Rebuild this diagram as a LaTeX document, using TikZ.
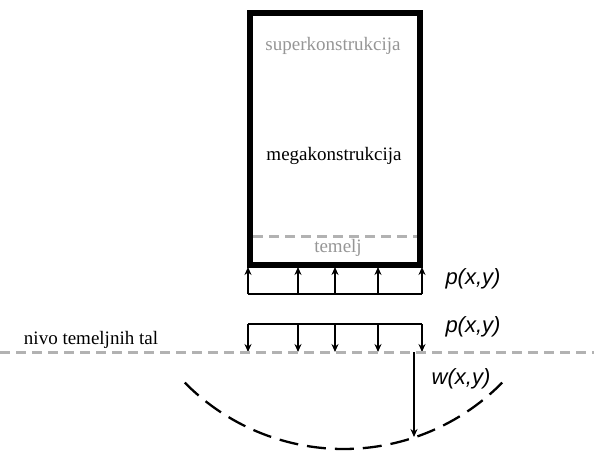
\documentclass[tikz,border=0pt]{standalone}
\usepackage{fontspec}
\setmainfont{Liberation Serif}
\newfontfamily\labfont{Liberation Sans}
\usetikzlibrary{arrows.meta}
\definecolor{lgray}{RGB}{178,178,178}
\definecolor{tgray}{RGB}{150,150,150}
\begin{document}
\begin{tikzpicture}[x=1pt,y=-1pt,
  wall/.style={line width=5.5pt},
  grayline/.style={draw=lgray,line width=3pt,dash pattern=on 10pt off 6pt},
  force/.style={line width=1.3pt,-{Stealth[length=8pt,width=7pt]}},
  frame/.style={line width=1.3pt},
  serif/.style={font=\fontsize{19}{22}\selectfont},
  fn/.style={font=\labfont\itshape\fontsize{22}{26}\selectfont}]
\useasboundingbox (0,0) rectangle (594,450);
% building
\draw[wall] (250,13) rectangle (420,265);
\draw[grayline] (253,236) -- (417,236);
\node[serif,text=tgray] (sup) at (333,46) {superkonstrukcija};
\node[serif] (mega) at (334,156) {megakonstrukcija};
\node[serif,text=tgray] (tem) at (338,248) {temelj};
% upward pressure
\foreach \i/\x in {1/248,2/298,3/335,4/378,5/422}{
  \coordinate (ub\i) at (\x,294);
  \coordinate (ut\i) at (\x,267);
  \coordinate (db\i) at (\x,324);
  \coordinate (dt\i) at (\x,352);
}
\draw[frame] (ub1) -- (ub5);
\foreach \i in {1,...,5}{\draw[force] (ub\i) -- (ut\i);}
\node[fn] (p1) at (473,279) {p(x,y)};
% downward pressure
\draw[frame] (db1) -- (db5);
\foreach \i in {1,...,5}{\draw[force] (db\i) -- (dt\i);}
\node[fn] (p2) at (473,327) {p(x,y)};
% ground level
\coordinate (gl) at (0,352);
\coordinate (gr) at (594,352);
\draw[grayline] (gl) -- (gr);
\node[serif] (nivo) at (91,340) {nivo temeljnih tal};
% settlement
\coordinate (c) at (343.5,226);
\draw[line width=2.3pt,dash pattern=on 19pt off 9pt] (c) ++(135.4:223) arc[start angle=135.4,end angle=44.6,radius=223];
\coordinate (ws) at (414,352);
\coordinate (we) at (414,437);
\draw[force] (ws) -- (we);
\node[fn] (w) at (461,379) {w(x,y)};
\end{tikzpicture}
\end{document}
